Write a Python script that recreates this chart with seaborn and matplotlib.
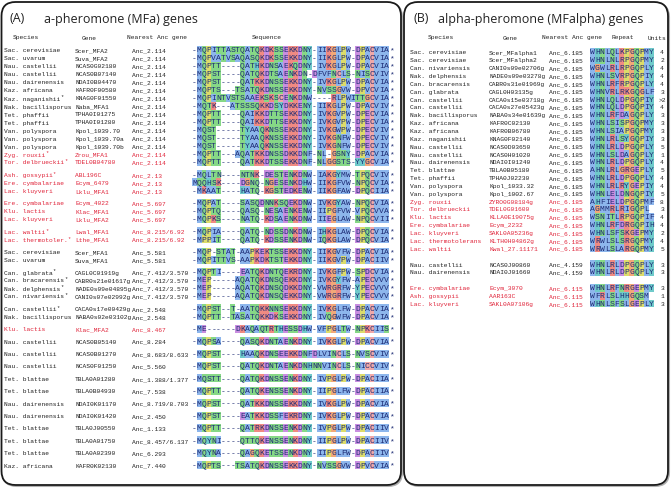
import numpy as np
import pandas as pd
import matplotlib.pyplot as plt
import seaborn as sns
from matplotlib.colors import ListedColormap
from matplotlib.patches import FancyBboxPatch

# ---- panel A data: a-pheromone (MFa) genes ----
a_species = [
    "Sac. cerevisiae", "Sac. uvarum", "Nau. castellii", "Nau. castellii",
    "Nau. dairenensis", "Kaz. africana", "Kaz. naganishii*", "Nak. bacillisporus",
    "Tet. phaffii", "Tet. phaffii", "Van. polyspora", "Van. polyspora",
    "Van. polyspora", "Zyg. rouxii*", "Tor. delbrueckii*",
    "Ash. gossypii*", "Ere. cymbalariae", "Lac. kluyveri",
    "Ere. cymbalariae", "Klu. lactis", "Lac. kluyveri",
    "Lac. waltii*", "Lac. thermotoler.*",
    "Sac. cerevisiae", "Sac. uvarum",
    "Can. glabrata*", "Can. bracarensis*", "Nak. delphensis*", "Can. nivariensis*",
    "Can. castellii*", "Nak. bacillisporus",
    "Klu. lactis",
    "Nau. castellii", "Nau. castellii", "Nau. castellii", "Tet. blattae",
    "Tet. blattae", "Nau. dairenensis", "Nau. dairenensis", "Tet. blattae",
    "Tet. blattae", "Tet. blattae", "Kaz. africana",
]
a_genes = [
    "Scer_MFA2", "Suva_MFA2", "NCAS0G02180", "NCAS0B07140", "NDAI0B04470",
    "KAFR0F00580", "KNAG0F01550", "Naba_MFA1", "TPHA0I01275", "TPHA0I01280",
    "Kpol_1039.70", "Kpol_1039.70a", "Kpol_1039.70b", "Zrou_MFA1", "TDEL0B04780",
    "ABL196C", "Ecym_6479", "Lklu_MFA1",
    "Ecym_4022", "Klac_MFA1", "Lklu_MFA2",
    "Lwal_MFA1", "Lthe_MFA1",
    "Scer_MFA1", "Suva_MFA1",
    "CAGL0C01919g", "CABR0s21e01617g", "NADE0s09e04895g", "CANI0s07e02992g",
    "CACA0s17e00429g", "NABA0s02e03102g",
    "Klac_MFA2",
    "NCAS0B05140", "NCAS0B01270", "NCAS0F01250", "TBLA0A01280", "TBLA0B04930",
    "NDAI0K01170", "NDAI0K01420", "TBLA0J00550", "TBLA0A01750", "TBLA0A02390",
    "KAFR0K02130",
]
a_anc = (["Anc_2.114"] * 15 + ["Anc_2.13"] * 3 + ["Anc_5.697"] * 3
         + ["Anc_8.215/6.92"] * 2 + ["Anc_5.581"] * 2 + ["Anc_7.412/3.570"] * 4
         + ["Anc_2.548"] * 2 + ["Anc_8.467"]
         + ["Anc_8.284", "Anc_8.683/8.633", "Anc_5.560", "Anc_1.388/1.377",
            "Anc_7.538", "Anc_8.719/8.703", "Anc_2.450", "Anc_1.133",
            "Anc_8.457/6.137", "Anc_6.293", "Anc_7.440"])
a_seqs = [
    "-MQPITTASTQATQKDKSSEKKDNY-IIKGLPW-DPACVIA*",
    "-MQPVATVSAQASQKDKSSEKKDNY-IIKGLPW-DPACVIA*",
    "-MQPTT----QATHKDNSAEKQDNY-IVKGLPW-DPACVIA*",
    "-MQPST----QATQKDTSAENKDN-DFVFNCLS-NISCVIV*",
    "-MQPST----QATKKDNSSEKKDNY-IVKGLPW-DPACVIA*",
    "-MQPTS---TSATQKDNSSEKKDNY-NVSSGVW-DPVCVIA*",
    "-MQPINTVSTSAAEKSKSCENKDNW----RLPWITTGCVIA*",
    "-MQTK---ATSSSQKKDSYDKKENY-IIKGLPW-DPACVIV*",
    "-MQPTT----QAIKKDTTSEKKDNY-IVKGVPW-DPECVIA*",
    "-MQPTT----QAIKKDTTSEKKDNY-IVKGVPW-DPECVIA*",
    "-MQST-----TYAAQKNSSEKKDNY-IVKGWPW-DPECVIV*",
    "-MQST-----TYAAQKNSSEKKDNY-IVKGNFW-DPECVIV*",
    "-MQST-----TYAAQKNSSEKKDNY-IVKGNFW-DPECVIV*",
    "-MQPTT---AQATKKDNSSDKKDNF-NL-GSNY-DPACVIA*",
    "-MQPTT----QATKKDTSSEKKDNF-NLGGSTS-YYGCVIA*",
    "-MQLTN----NTNK-DESTENKDNW-IAKGYMW-TPQCVIV*",
    "MQQHSK----DGNQ-NGESENKDHW-IIKGFVW-NPQCVIA*",
    "-MKAAT----HATQ-KGSTEDKENW-IIKGFAW-DPQCIIA*",
    "-MQPAT----SASQDNNKSQEKDNW-IVKGYAW-NPQCVIA*",
    "-MQPTQ----QASQ-NESAENKENW-IIPGFVW-VPQCVVA*",
    "-MQPKS----NATQ-KDSAENKDNW-IIEGLAW-NPQCVII*",
    "-MQPIA----QATQ-NDSSDNKDNW-IHKGLAW-DPQCVIA*",
    "-MPPIT----QATQ-KDSSENKDNW-IQKGLAW-DPQCVIA*",
    "-MQP-STAT-AAPKEKTSSEKKDNY-IIKGVFW-DPACVIA*",
    "-MQPITTVS-AAPKDKTSTEKKDNY-IIKGVPW-DPACIIV*",
    "-MQPTI----EATQKDNTQEKRDNY-IVKGFPW-SPDCVIA*",
    "-MEP-----AQATQKDNSQEKKDNY-IVKGYFW-APECVVV*",
    "-MEP-----AQATQKDNSQDKKDNY-VWRGRFW-YPECVVV*",
    "-MEP-----AQATQKDNSQEKKDNY-VWRGRFW-YPECVVV*",
    "-MQPST--T-AATQKKNNSEKKDNY-IVKGLFW-DPACVIA*",
    "-MQPTT--TASATQKKDKSEKKDNY-IVQGWFW-DPACVIA*",
    "-ME------DKAQAQTRTHESSDHW-VFPGLTW-NPKCIIS*",
    "-MQPSA----QASQKDNTAENKDNY-IVKGLPW-DPACVIA*",
    "-MQPST----HAAQKDNSEEKKDNFDLVINCLS-NVSCVIV*",
    "-MQPST----QATQKDNTAENKDNHNNVINCLS-NICCVIV*",
    "-MQSTT----QATQKDNSSENKDNY-IVPGLPW-DPACIIA*",
    "-MQPTT----QATQKENSSENKDNY-IIPGLFW-DPACIIA*",
    "-MQPST----QATKKDNSSEKKDNY-IVKGLPW-DPACVIA*",
    "-MQPST----EATKKDSSFEKRDNY-IVKGLPW-DPACVIA*",
    "-MQPTT----QATRKDNSSENKDNY-IVPGLPW-DPACIIV*",
    "-MQYNI----QTTQKENSSENKDNY-IIPGLPW-DPACIIV*",
    "-MQYNA----QAGQKETSSENKDNY-IIPGLFW-DPACIIV*",
    "-MQPTS---TSATQKDNSSEKKDNY-NVSSGVW-DPVCVIA*",
]
a_red = [False] * 13 + [True] * 10 + [False] * 8 + [True] + [False] * 11
a_group = ([0] * 15 + [1] * 3 + [2] * 3 + [3] * 2 + [4] * 2 + [5] * 4 + [6] * 2
           + [7] + list(range(8, 19)))

# ---- panel B data: alpha-pheromone (MFalpha) genes ----
b_species = [
    "Sac. cerevisiae", "Sac. cerevisiae", "Can. nivariensis", "Nak. delphensis",
    "Can. bracarensis", "Can. glabrata", "Can. castellii", "Can. castellii",
    "Nak. bacillisporus", "Kaz. africana", "Kaz. africana", "Kaz. naganishii",
    "Nau. castellii", "Nau. castellii", "Nau. dairenensis", "Tet. blattae",
    "Tet. phaffii", "Van. polyspora", "Van. polyspora", "Zyg. rouxii",
    "Tor. delbrueckii", "Klu. lactis", "Ere. cymbalariae", "Lac. kluyveri",
    "Lac. thermotolerans", "Lac. waltii",
    "Nau. castellii", "Nau. dairenensis",
    "Ere. cymbalariae", "Ash. gossypii", "Lac. kluyveri",
]
b_genes = [
    "Scer_MFalpha1", "Scer_MFalpha2", "CANI0s09e02706g", "NADE0s09e03278g",
    "CABR0s31e01969g", "CAGL0H03135g", "CACA0s15e03718g", "CACA0s27e05423g",
    "NABA0s34e01639g", "KAFR0C02130", "KAFR0B06780", "KNAG0F02140",
    "NCAS0D03650", "NCAS0H01020", "NDAI0I01240", "TBLA0B05180", "TPHA0J02230",
    "Kpol_1033.32", "Kpol_1002.67", "ZYRO0G08184g", "TDEL0G01600",
    "KLLA0E19075g", "Ecym_2232", "SAKL0A05236g", "KLTH0H04862g", "Kwal_27.11171",
    "NCAS0J00860", "NDAI0J01660",
    "Ecym_3070", "AAR163C", "SAKL0A07106g",
]
b_anc = ["Anc_6.185"] * 26 + ["Anc_4.159"] * 2 + ["Anc_6.115"] * 3
b_repeats = [
    "WHNLQLKPGQPMY", "WHNLNLRPGQPMY", "WGWLRLRPGQPLY", "WHNLSVRPGQPIY",
    "WHNLRFRPGQPLY", "WHNVRLRKGQGLF", "WHNLQLDPGQPIY", "WHNLQLDPGQPIY",
    "WHNLRFDAGQPLY", "WHNLSISPGQPMY", "WHNLSIAPGQPMY", "WHNLRLSYGQPIY",
    "WHNLRLDPGQPLY", "WHNLSLDAGQPLY", "WHNLRLDPGQPLY", "AHNLRLGRGEPLY",
    "WHNLRLDPGQPLY", "WHNLRLRYGEPIY", "WHNLELDNGQPIY", "AHFIELDPGQPMF",
    "AGMMRLRIGQPL ", "WSNITLRPGQPIF", "WHNLRFDRGQPIH", "WHNLSFSKGEPMY",
    "WRWLSLSRGQPMY", "WRWLSLARGQPMY",
    "WHNLRLDPGQPLY", "WHNLRLDPGQPLY",
    "WHNLRFNRGEPMY", "WFRLSLHHGQSM ", "WHNLSFSLGEPLY",
]
b_units = ["4", "2", "4", "4", "4", "3", ">2", "4", "3", "3", "3", "3", "5", "1",
           "4", "5", "4", "4", "5", "8", "3", "4", "4", "2", "4", "5", "3", "3",
           "3", "1", "3"]
b_red = [False] * 19 + [True] * 7 + [False] * 2 + [True] * 3
b_group = [0] * 26 + [1] * 2 + [2] * 3

# ClustalX-like residue colouring
residue_class = {}
for aa in "AILMFWV":
    residue_class[aa] = 1
for aa in "NQST":
    residue_class[aa] = 2
for aa in "KR":
    residue_class[aa] = 3
for aa in "DE":
    residue_class[aa] = 4
residue_class.update({"G": 5, "P": 6, "H": 7, "Y": 7, "C": 8})
class_colors = ["#ffffff", "#8db6ec", "#86d886", "#f08a82", "#c98ee0",
                "#f2a878", "#dcdc6a", "#6fcaca", "#f0a8a8"]
aa_cmap = ListedColormap(class_colors)

W, H = 671, 489
MONO = "Liberation Mono"
RED = "#e0243a"
INK = "#222222"
LETTER = "#1e2c74"
LAB = 4.5

sns.set_theme(style="white")
plt.rcParams["font.family"] = ["Open Sans", "DejaVu Sans"]

fig = plt.figure(figsize=(W / 100, H / 100), dpi=100)
bg = fig.add_axes([0, 0, 1, 1])
bg.set_xlim(0, W)
bg.set_ylim(H, 0)
bg.axis("off")

for x0, w in [(1.5, 399.5), (404, 264)]:
    bg.add_patch(FancyBboxPatch((x0 + 1.2, 4.2), w, 483, boxstyle="round,pad=0,rounding_size=14",
                                fc="none", ec="#b0b0b0", lw=1.2))
    bg.add_patch(FancyBboxPatch((x0, 3), w, 483, boxstyle="round,pad=0,rounding_size=14",
                                fc="white", ec="#1a1a1a", lw=1.3))


def row_centers(groups, y_first, step, gap):
    ys = []
    y = y_first
    for i, g in enumerate(groups):
        if i > 0:
            y += step + (gap if g != groups[i - 1] else 0)
        ys.append(y)
    return ys


def draw_labels(x_cols, cols, ys, reds, size=LAB, cw=3.75):
    for j, col in enumerate(cols):
        for i, txt in enumerate(col):
            c = RED if reds[i] else INK
            star = txt.endswith("*")
            txt = txt.rstrip("*")
            bg.text(x_cols[j], ys[i], txt, fontsize=size, family=MONO, color=c,
                    ha="left", va="center")
            if star:
                bg.text(x_cols[j] + len(txt) * cw, ys[i] - 2, "*", fontsize=size - 0.6,
                        family=MONO, color=c, ha="left", va="center")


def draw_alignment(seqs, groups, ys, x0, cw, ch, size):
    ncol = max(len(s) for s in seqs)
    for g in dict.fromkeys(groups):
        idx = [i for i, gg in enumerate(groups) if gg == g]
        rows = [seqs[i].ljust(ncol) for i in idx]
        codes = np.array([[residue_class.get(c, 0) for c in r] for r in rows])
        labels = np.array([[c.strip() for c in r] for r in rows])
        ytop = ys[idx[0]] - ch / 2
        ax = fig.add_axes([x0 / W, 1 - (ytop + len(idx) * ch) / H,
                           ncol * cw / W, len(idx) * ch / H])
        sns.heatmap(pd.DataFrame(codes), ax=ax, cmap=aa_cmap, vmin=-0.5,
                    vmax=len(class_colors) - 0.5, cbar=False, annot=labels, fmt="",
                    xticklabels=False, yticklabels=False,
                    annot_kws={"fontsize": size, "family": MONO, "color": LETTER})
        ax.set_axis_off()


# ---- panel A ----
bg.text(10, 19, "(A)", fontsize=9, color=INK, va="center")
bg.text(44, 19, "a-pheromone (MFa) genes", fontsize=9, color=INK, va="center")
for x, t in [(13, "Species"), (82, "Gene"), (127, "Nearest Anc gene"), (252, "Sequence")]:
    bg.text(x, 38, t, fontsize=LAB, family=MONO, color=INK, va="center")

a_y = row_centers(a_group, 51, 8.0, 4.4)
draw_labels([4, 75, 132], [a_species, a_genes, a_anc], a_y, a_red)
draw_alignment(a_seqs, a_group, a_y, 192, 4.8, 8.0, 5.8)

# ---- panel B ----
bg.text(414, 19, "(B)", fontsize=9, color=INK, va="center")
bg.text(438, 19, "alpha-pheromone (MFalpha) genes", fontsize=9, color=INK, va="center")
for x, t in [(428, "Species"), (503, "Gene"), (542, "Nearest Anc gene"),
             (612, "Repeat"), (648, "Units")]:
    bg.text(x, 38, t, fontsize=LAB, family=MONO, color=INK, va="center")

b_y = row_centers(b_group, 53, 7.85, 8.0)
draw_labels([410, 489, 549], [b_species, b_genes, b_anc], b_y, b_red)
draw_alignment(b_repeats, b_group, b_y, 590, 4.9, 7.85, 5.8)
for i, u in enumerate(b_units):
    bg.text(662, b_y[i], u, fontsize=LAB, family=MONO, color=INK, ha="center", va="center")

fig.savefig("out.png", dpi=100)
